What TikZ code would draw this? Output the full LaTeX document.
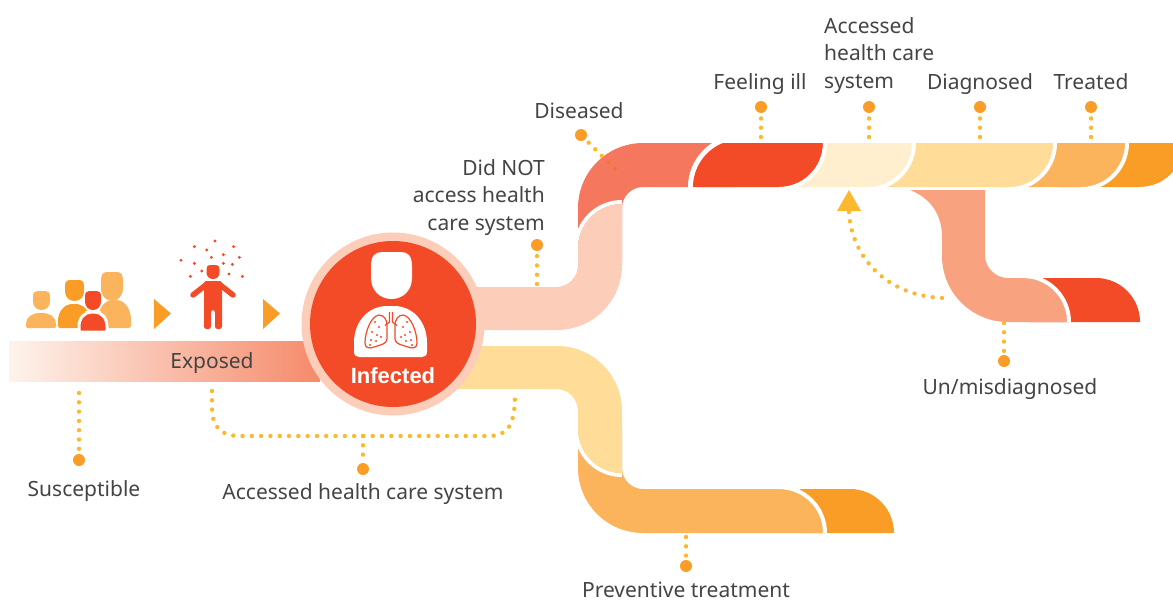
\documentclass[tikz,border=0pt]{standalone}
\usepackage{fontspec}
\setmainfont{Noto Sans}
\newfontfamily\boldlab{Liberation Sans}
\tikzset{
  x=1pt,y=-1pt,
  lbl/.style={font=\fontsize{21}{27.5}\selectfont,text=txtc,inner sep=0pt},
  bigdot/.style={circle,fill=dotbig,inner sep=0pt,minimum size=12pt},
  dotline/.style={draw=dotc,line width=4.4pt,line cap=round,dash pattern=on 0pt off 9.3pt},
  sep/.style={draw=white,line width=4pt}
}
\definecolor{txtc}{HTML}{444444}
\definecolor{dotbig}{HTML}{FA9D26}
\definecolor{dotc}{HTML}{FDB92E}
\definecolor{dotd}{HTML}{F3743A}
\definecolor{redc}{HTML}{F34A28}
\definecolor{corc}{HTML}{F4775E}
\definecolor{pinkc}{HTML}{FCCDB8}
\definecolor{salc}{HTML}{F9A280}
\definecolor{creamc}{HTML}{FFEFCF}
\definecolor{yelc}{HTML}{FFDC98}
\definecolor{tanc}{HTML}{FBB45C}
\definecolor{orac}{HTML}{FA9D26}
\definecolor{gradl}{HTML}{FEF3EC}
\definecolor{gradr}{HTML}{F58A6A}
\newcommand{\topseg}[3]{%
  \fill[#3] (#1,143) -- (#2+44,143) arc[start angle=0,end angle=-90,radius=44pt] -- (#1,187) -- cycle;
  \draw[sep] (#2+46,143) arc[start angle=0,end angle=-90,radius=46pt];}
\newcommand{\uhead}[5]{%
  \fill[#5,shift={(#1,#2)},xscale=#3,yscale=#4] (0,.3) .. controls (0,.08) and (.1,0) .. (.27,0) -- (.73,0) .. controls (.9,0) and (1,.08) .. (1,.3) -- (1,.55) .. controls (1,.82) and (.78,1) .. (.5,1) .. controls (.22,1) and (0,.82) .. (0,.55) -- cycle;}
\newcommand{\ubody}[6][]{%
  \path[fill=#6,#1,shift={(#2,#3)},xscale=#4,yscale=#5] (0,.9) -- (0,.72) .. controls (0,.3) and (.2,0) .. (.45,0) -- (.55,0) .. controls (.8,0) and (1,.3) .. (1,.72) -- (1,.9) .. controls (1,.97) and (.97,1) .. (.93,1) -- (.07,1) .. controls (.03,1) and (0,.97) .. (0,.9) -- cycle;}
\begin{document}
\begin{tikzpicture}
\useasboundingbox (0,0) rectangle (1173,600);
\clip (0,0) rectangle (1173,600);
% exposed band
\shade[left color=gradl,right color=gradr] (9,341) rectangle (320,381);
% top band, right to left
\topseg{1060}{1140}{orac}
\topseg{1000}{1081}{tanc}
\topseg{860}{1009}{yelc}
\topseg{760}{868}{creamc}
% diseased
\fill[corc] (578,265) -- (578,208) arc[start angle=180,end angle=90,radius=65pt] -- (735,143) -- (735,187) -- (643,187) arc[start angle=90,end angle=180,radius=21pt] -- (622,265) -- cycle;
\draw[white,line width=10pt] (693,195) -- (693,187) .. controls (693,168) and (705,150) .. (723,143) -- (740,136);
\fill[redc] (693,187) .. controls (693,168) and (705,150) .. (723,143) -- (823,143) arc[start angle=0,end angle=-90,radius=44pt] -- cycle;
\draw[sep] (825,143) arc[start angle=0,end angle=-90,radius=46pt];
% pink band
\draw[white,line width=4pt] (576,248) arc[start angle=180,end angle=90,radius=46pt];
\fill[pinkc] (440,287) -- (556,287) arc[start angle=-90,end angle=0,radius=22pt] -- (578,248) arc[start angle=180,end angle=90,radius=44pt] -- (622,265) arc[start angle=0,end angle=-90,radius=65pt] -- (440,330) -- cycle;
% lower route
\fill[orac] (800,489) -- (850,489) arc[start angle=90,end angle=0,radius=44pt] -- (800,533) -- cycle;
\fill[tanc] (578,430) -- (578,468) arc[start angle=180,end angle=270,radius=65pt] -- (823,533) arc[start angle=0,end angle=90,radius=44pt] -- (643,489) arc[start angle=270,end angle=180,radius=21pt] -- (622,430) -- cycle;
\draw[sep] (825,533) arc[start angle=0,end angle=90,radius=46pt];
\draw[sep] (576,429) arc[start angle=180,end angle=270,radius=46pt];
\fill[yelc] (440,346) -- (557,346) arc[start angle=90,end angle=0,radius=65pt] -- (622,473) arc[start angle=270,end angle=180,radius=44pt] -- (578,411) arc[start angle=0,end angle=90,radius=22pt] -- (440,389) -- cycle;
% misdiagnosed route
\fill[redc] (1030,278) -- (1096,278) arc[start angle=90,end angle=0,radius=44pt] -- (1030,322) -- cycle;
\fill[salc] (910,190) -- (985,190) -- (985,255) arc[start angle=180,end angle=270,radius=23pt] -- (1023,278) arc[start angle=90,end angle=0,radius=44pt] -- (1008,322) arc[start angle=270,end angle=180,radius=66pt] -- (942,237) .. controls (942,212) and (928,197) .. (910,190) -- cycle;
\draw[sep] (1023,276) arc[start angle=90,end angle=0,radius=46pt];
% up arrow
\fill[dotc] (849,190) -- (861,211) -- (837,211) -- cycle;
% infected circle
\node[circle,fill=pinkc,inner sep=0pt,minimum size=183pt] (cOuter) at (393,324) {};
\node[circle,fill=redc,inner sep=0pt,minimum size=166pt] (cInner) at (393,324) {};
\uhead{371}{252}{41}{47}{white}
\ubody{354}{306}{73}{51}{white}
\foreach \s/\o in {1/0,-1/782}{
\begin{scope}[shift={(\o,0)},xscale=\s]
\draw[redc,line width=1.2pt,line join=round] (379,315) .. controls (371,316) and (365,332) .. (365,343) .. controls (365,348) and (369,349) .. (374,347) .. controls (380,345) and (387,344) .. (387,339) -- (387,325) .. controls (387,320) and (384,315) .. (379,315) -- cycle;
\draw[redc,line width=1.2pt] (389.5,312) -- (389.5,322) -- (385,325.5);
\foreach \a/\b in {372/332,379/327,377/335,371/340,376/341,370/345,381/337,375/322}
  \fill[redc] (\a,\b) circle[radius=1.2pt];
\end{scope}}
\node[font=\fontsize{22}{24}\selectfont\boldlab\bfseries,text=white,inner sep=0pt] (tInf) at (393,375.5) {Infected};
% people
\uhead{33}{291}{17}{19}{tanc}
\ubody{26}{313}{30}{15}{tanc}
\uhead{101}{272}{22}{29}{tanc}
\ubody{98}{300}{33}{28}{tanc}
\uhead{65}{280}{19}{21}{orac}
\ubody{58}{304}{32}{24}{orac}
\ubody[draw=white,line width=3pt]{79}{312}{28}{20}{redc}
\uhead{85}{291}{16}{19}{redc}
\draw[white,line width=1pt] (85,311) -- (101,311);
% triangles
\fill[orac] (154,299) -- (171,313.5) -- (154,329) -- cycle;
\fill[orac] (263,299) -- (280,313.5) -- (263,329) -- cycle;
% exposed figure
\uhead{206.5}{265}{13}{14}{redc}
\draw[redc,line width=5.5pt,line cap=round,line join=round] (207,284) -- (193,295);
\draw[redc,line width=5.5pt,line cap=round,line join=round] (219,284) -- (233,295);
\fill[redc,rounded corners=2.5pt] (204,281) -- (222,281) -- (222,329) -- (215,329) -- (215,310) -- (211,310) -- (211,329) -- (204,329) -- cycle;
\foreach \a/\b in {645/63,583/80,701/80,620/90,670/104,634/112,718/112,543/121,583/130,670/130,697/133,605/153,687/162,571/169,727/169}
  \fill[redc] (\a/3,220+\b/3) circle[radius=1.6pt];
% labels
\node[lbl] (tExp) at (212,363) {Exposed};
\node[lbl] (tSus) at (84,491) {Susceptible};
\node[lbl] (tAcc) at (363,494) {Accessed health care system};
\node[lbl] (tPre) at (686,590) {Preventive treatment};
\node[lbl] (tUn) at (1010,389) {Un/misdiagnosed};
\node[lbl] (tDis) at (579,111) {Diseased};
\node[lbl,align=right,anchor=east] (tNot) at (545,197.5) {Did NOT\\access health\\care system};
\node[lbl] (tFee) at (760,84) {Feeling ill};
\node[lbl,align=left,anchor=west] (tAcc2) at (824,55.5) {Accessed\\health care\\system};
\node[lbl] (tDia) at (980,84) {Diagnosed};
\node[lbl] (tTre) at (1091,82) {Treated};
% dots
\node[bigdot] (dSus) at (79,460) {};
\coordinate (eSus) at (79,393);
\draw[dotline] (eSus) -- (dSus);
\node[bigdot] (dAcc) at (363,469) {};
\coordinate (eAcc) at (363,436);
\draw[dotline] (eAcc) -- (dAcc);
\coordinate (eL) at (212,391);
\coordinate (eR) at (515,395);
\draw[dotline] (eL) -- (212,408) .. controls (212,428) and (222,436) .. (240,436) -- (488,436) .. controls (506,436) and (515,428) .. (eR);
\node[bigdot] (dPre) at (686,566) {};
\coordinate (ePre) at (686,537);
\draw[dotline] (ePre) -- (dPre);
\node[bigdot] (dUn) at (1004,361) {};
\coordinate (eUn) at (1004,323);
\draw[dotline] (eUn) -- (dUn);
\node[bigdot] (dNot) at (537,245) {};
\coordinate (eNot) at (537,284);
\draw[dotline] (eNot) -- (dNot);
\node[bigdot] (dDis) at (581,135) {};
\coordinate (eDis) at (615,169);
\draw[dotline] (eDis) -- (dDis);
\fill[dotd] (608.4,162.4) circle[radius=2.3pt] (615,169) circle[radius=2.3pt];
\foreach \n/\x in {Fee/761,Acc/869,Dia/980,Tre/1091}{
  \node[bigdot] (t\n) at (\x,107) {};
  \coordinate (b\n) at (\x,137);
  \draw[dotline] (b\n) -- (t\n);
}
\coordinate (aTip) at (849,212);
\coordinate (aEnd) at (943,298);
\draw[dotline] (aTip) .. controls (851,255) and (885,296) .. (aEnd);
\end{tikzpicture}
\end{document}
